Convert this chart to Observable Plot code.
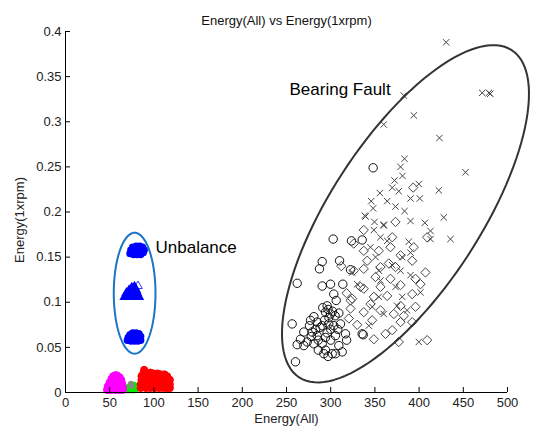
<!DOCTYPE html>
<html>
<head>
<meta charset="utf-8">
<script src="https://cdn.jsdelivr.net/npm/d3@7"></script>
<script src="https://cdn.jsdelivr.net/npm/@observablehq/plot@0.6"></script>
<style>
  html, body { margin: 0; padding: 0; background: #fff; }
</style>
</head>
<body>
<div id="chart"></div>
<script>
// ---- Text ----
const titleText = "Energy(All) vs Energy(1xrpm)";
const xLabel = "Energy(All)";
const yLabel = "Energy(1xrpm)";

// ---- Ticks ----
const xTicks = [0, 50, 100, 150, 200, 250, 300, 350, 400, 450, 500];
const yTicks = [0, 0.05, 0.1, 0.15, 0.2, 0.25, 0.3, 0.35, 0.4];
const yTickLabels = ["0", "0.05", "0.1", "0.15", "0.2", "0.25", "0.3", "0.35", "0.4"];

// ---- Low clusters near origin ([Energy(All), Energy(1xrpm)]) ----
const magentaPts = [[47,0.003],[48,0.007],[50,0.011],[52,0.015],[54,0.018],[56,0.019],[58,0.019],[61,0.017],
  [63,0.014],[64,0.010],[65,0.006],[65,0.003],[62,0.003],[59,0.003],[56,0.003],[52,0.003],[49,0.003],
  [55,0.008],[60,0.009],[57,0.014],[60,0.013],[52,0.007],[62,0.006],[56,0.005],[59,0.016],[54,0.011]];
const greenPts = [[71,0.003],[74,0.003],[77,0.003],[79,0.004],[79,0.007],[77,0.008],[74,0.008],[72,0.006],[75,0.005]];
const grayPts = [[74,0.010],[75,0.007]];
const redPts = [[85,0.005],[85,0.009],[86,0.014],[86,0.018],[88,0.021],[89,0.025],[92,0.021],[96,0.022],
  [100,0.021],[104,0.021],[108,0.020],[112,0.020],[115,0.018],[118,0.014],[118,0.009],[118,0.005],
  [115,0.005],[111,0.005],[106,0.005],[101,0.005],[96,0.005],[91,0.005],[89,0.007],[90,0.011],[90,0.016],
  [94,0.017],[94,0.011],[94,0.008],[99,0.008],[99,0.012],[99,0.017],[104,0.016],[104,0.011],[104,0.008],
  [109,0.008],[109,0.012],[109,0.016],[113,0.014],[113,0.010],[115,0.008]];

// ---- Unbalance clusters ----
const blueTopPts = [[73,0.154],[74,0.158],[76,0.161],[80,0.162],[84,0.162],[87,0.161],[89,0.158],[88,0.155],
  [85,0.153],[81,0.153],[77,0.153],[80,0.157],[84,0.157],[77,0.157]];
const blueMidPts = [[67,0.106],[71,0.106],[75,0.106],[79,0.106],[83,0.106],[69,0.110],[73,0.110],[77,0.110],
  [81,0.110],[72,0.113],[76,0.113],[80,0.113],[75,0.116],[78,0.117]];
const blueMidOpen = [[82,0.118]];
const blueLowPts = [[70,0.058],[71,0.061],[73,0.064],[76,0.066],[80,0.066],[83,0.065],[85,0.062],[85,0.058],
  [82,0.057],[78,0.057],[74,0.057],[78,0.061],[82,0.061],[75,0.061]];

// ---- Bearing fault clusters ----
const circlePts = [[302.8,0.170],[323.5,0.168],[290.4,0.145],[310,0.146],[287.3,0.137],[322.4,0.136],
  [262.1,0.121],[290.4,0.118],[299.8,0.120],[313.7,0.120],[303.5,0.109],[306.2,0.102],[296,0.096],
  [294.1,0.089],[299.8,0.087],[309.2,0.088],[256.4,0.076],[277.1,0.080],[284.7,0.078],[290.4,0.074],
  [297.8,0.076],[303.5,0.074],[311.1,0.076],[269.6,0.067],[279.1,0.067],[284.7,0.063],[294.1,0.061],
  [305.4,0.063],[316.7,0.065],[265.8,0.059],[273.4,0.056],[290.4,0.054],[309.2,0.052],[262.1,0.053],
  [269.6,0.052],[294.1,0.047],[301.7,0.043],[292.2,0.043],[305.4,0.043],[260.2,0.034],[280.9,0.054],
  [348,0.249],[335.6,0.169],[335.6,0.065],[336.8,0.064],
  [297,0.092],[302,0.090],[305,0.085],[298,0.083],[293,0.080],[288,0.072],[283,0.070],[278,0.062],
  [296,0.066],[300,0.070],[286,0.058],[300,0.058],[308,0.070],[276,0.074],[281,0.084],[291,0.094],
  [286,0.047],[313,0.045],[297,0.040],[318,0.058]];
const diamondPts = [[393.3,0.227],[373.3,0.189],[337.4,0.180],[409.1,0.172],[369.6,0.172],[326.1,0.165],
  [337.4,0.157],[354.4,0.157],[367.6,0.161],[394,0.161],[379,0.152],[337.4,0.137],[365.7,0.143],
  [356.3,0.139],[392.2,0.146],[407.2,0.133],[326.1,0.135],[350.7,0.128],[367.6,0.126],[395.9,0.126],
  [356.3,0.117],[379,0.119],[337.4,0.115],[392.2,0.109],[324.3,0.104],[348.8,0.106],[363.9,0.107],
  [345,0.098],[379,0.096],[395.9,0.095],[337.4,0.089],[356.3,0.091],[371.4,0.087],[382.7,0.085],
  [346.9,0.080],[379,0.078],[392.2,0.078],[362,0.065],[369.6,0.069],[348.8,0.059],[377,0.056],
  [409.1,0.058],[322.4,0.093],[320.5,0.082],[401.6,0.120],[373.3,0.139],[341.3,0.146],
  [322.4,0.102],[333.7,0.117],[312,0.140],[318,0.110],[330,0.075]];
const crossPts = [[430.6,0.388],[382.7,0.329],[471.4,0.332],[479,0.332],[480.5,0.331],[394,0.307],
  [360,0.297],[423,0.282],[383.5,0.259],[379,0.250],[381.2,0.240],[452.5,0.244],[372.2,0.235],
  [399.7,0.231],[369.6,0.227],[377,0.223],[355.6,0.221],[422.3,0.224],[390.3,0.215],[400.8,0.215],
  [363.9,0.212],[345.8,0.212],[348,0.204],[373.3,0.206],[383.5,0.201],[338.6,0.196],[427.9,0.194],
  [406.5,0.188],[349.5,0.189],[360,0.186],[390.3,0.190],[412.9,0.179],[435.5,0.170],[412.9,0.170],
  [360,0.185],[348.8,0.180],[339.4,0.195],[388.3,0.167],[390.3,0.155],[380.9,0.150],[356.3,0.172],
  [363.9,0.168],[345,0.161],[350.7,0.150],[369.6,0.141],[379,0.135],[354.4,0.135],[390.3,0.130],
  [356.3,0.124],[373.3,0.117],[401.6,0.111],[380.9,0.106],[354.4,0.106],[375.2,0.096],[346.9,0.095],
  [386.4,0.091],[360,0.087],[399.7,0.056],[343.1,0.074],[330,0.120],[324.3,0.133]];

// ---- Annotation ellipses (center and two conjugate semi-axis vectors, data units) ----
const unbalanceEllipse = {cx: 78.2, cy: 0.110, ax: 23.6, ay: 0, bx: 0, by: 0.067};
const bearingEllipse = {cx: 384.6, cy: 0.198, ax: 120.2, ay: 0.1813, bx: 71.2, by: -0.0453};
const annotations = [
  {text: "Unbalance", x: 101.8, y: 0.161},
  {text: "Bearing Fault", x: 253.4, y: 0.336}
];

function ellipsePath(e) {
  const n = 120, pts = [];
  for (let i = 0; i <= n; i++) {
    const t = (i / n) * 2 * Math.PI;
    pts.push([e.cx + e.ax * Math.cos(t) + e.bx * Math.sin(t), e.cy + e.ay * Math.cos(t) + e.by * Math.sin(t)]);
  }
  return pts;
}

const font = "'Liberation Sans', Arial, Helvetica, sans-serif";

const chart = Plot.plot({
  width: 541,
  height: 432,
  marginLeft: 65,
  marginRight: 34,
  marginTop: 31,
  marginBottom: 40,
  style: {fontFamily: font, fontSize: "13px", background: "#fff", color: "#111", overflow: "visible"},
  x: {domain: [0, 500]},
  y: {domain: [0, 0.4]},
  marks: [
    // low clusters
    Plot.dot(greenPts, {x: d => d[0], y: d => d[1], r: 3.2, fill: "#00ee00", stroke: "#00ee00", strokeWidth: 1}),
    Plot.dot(magentaPts, {x: d => d[0], y: d => d[1], r: 3.6, fill: "#ff00ff", stroke: "#ff00ff", strokeWidth: 1}),
    Plot.dot(grayPts, {x: d => d[0], y: d => d[1], r: 2, fill: "#888", stroke: "#888"}),
    Plot.dot(redPts, {x: d => d[0], y: d => d[1], r: 3.6, fill: "#ff0000", stroke: "#ff0000", strokeWidth: 1}),
    // unbalance clusters
    Plot.dot(blueTopPts, {x: d => d[0], y: d => d[1], r: 3, fill: "#0000ff", stroke: "#0000ff"}),
    Plot.dot(blueMidPts, {x: d => d[0], y: d => d[1], r: 3, symbol: "triangle", fill: "#0000ff", stroke: "#0000ff"}),
    Plot.dot(blueMidOpen, {x: d => d[0], y: d => d[1], r: 3.2, symbol: "triangle", fill: "none", stroke: "#0000ff", strokeWidth: 0.8}),
    Plot.dot(blueLowPts, {x: d => d[0], y: d => d[1], r: 3, fill: "#0000ff", stroke: "#0000ff"}),
    // bearing fault
    Plot.dot(circlePts, {x: d => d[0], y: d => d[1], r: 4.2, symbol: "circle", fill: "none", stroke: "#111", strokeWidth: 1}),
    Plot.dot(diamondPts, {x: d => d[0], y: d => d[1], r: 4.2, symbol: "diamond2", fill: "none", stroke: "#444", strokeWidth: 1}),
    Plot.dot(crossPts, {x: d => d[0], y: d => d[1], r: 3, symbol: "times", stroke: "#444", strokeWidth: 1}),
    // ellipses
    Plot.line(ellipsePath(unbalanceEllipse), {x: d => d[0], y: d => d[1], stroke: "#1a75c4", strokeWidth: 2, curve: "linear"}),
    Plot.line(ellipsePath(bearingEllipse), {x: d => d[0], y: d => d[1], stroke: "#333", strokeWidth: 2, curve: "linear"}),
    Plot.text(annotations, {x: "x", y: "y", text: "text", textAnchor: "start", fontSize: 17, fill: "#000", fontFamily: font}),
    // axes
    Plot.ruleY([0], {stroke: "#000", strokeWidth: 1}),
    Plot.ruleX([0], {stroke: "#000", strokeWidth: 1}),
    Plot.axisX({ticks: xTicks, tickSize: -5, tickPadding: 10, tickFormat: d => String(d), label: null, stroke: "#000", color: "#222"}),
    Plot.axisY({ticks: yTicks, tickSize: -5, tickPadding: 9, tickFormat: d => yTickLabels[yTicks.indexOf(d)], label: null, stroke: "#000", color: "#222"}),
    Plot.text([xLabel], {frameAnchor: "bottom", dy: 30, fill: "#222", fontSize: 13}),
    Plot.text([yLabel], {frameAnchor: "left", textAnchor: "middle", dx: -46, dy: 8, rotate: -90, fill: "#222", fontSize: 13}),
    Plot.text([titleText], {frameAnchor: "top", dy: -16, fill: "#111", fontSize: 13})
  ]
});
document.getElementById("chart").appendChild(chart);
</script>
</body>
</html>
